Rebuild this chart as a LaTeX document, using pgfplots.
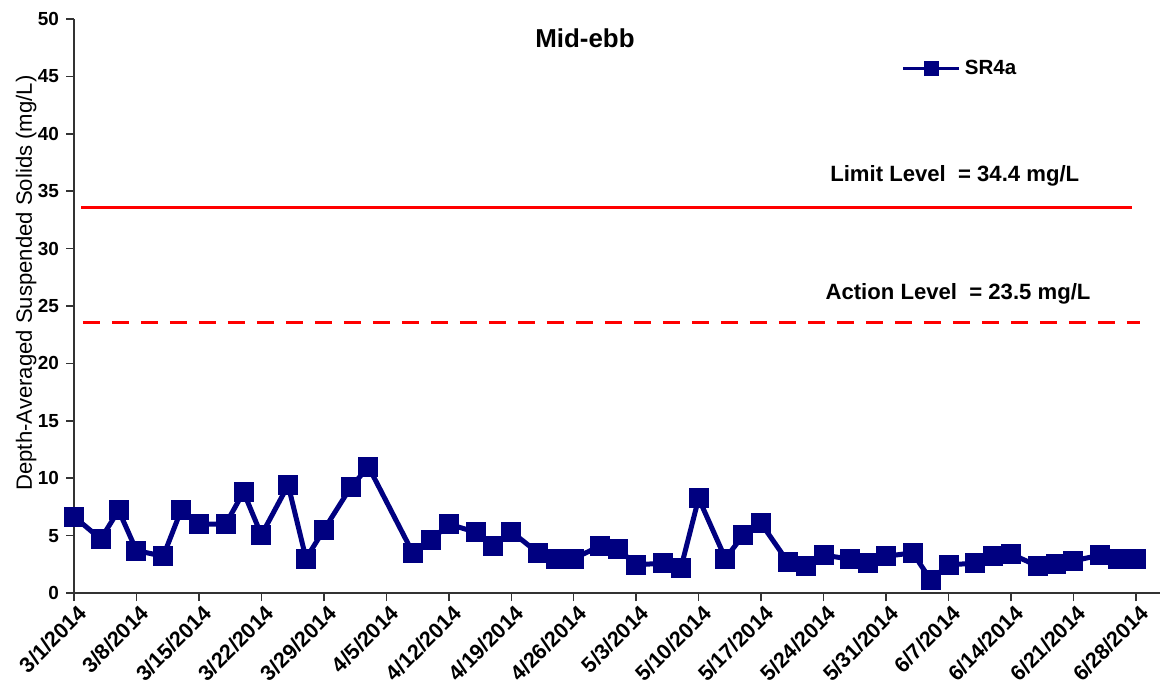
\documentclass[border=0pt]{standalone}
\usepackage{pgfplots}
\pgfplotsset{compat=1.18}
\usepackage{fontspec}
\setmainfont{Liberation Sans}
\definecolor{navy}{RGB}{0,0,128}

\pgfplotstableread{
day  tss
0    6.65
3    4.7
5    7.2
7    3.7
10   3.2
12   7.2
14   6.0
17   6.0
19   8.8
21   5.05
24   9.4
26   3.0
28   5.5
31   9.2
33   11.0
38   3.45
40   4.6
42   6.0
45   5.3
47   4.1
49   5.35
52   3.5
54   3.0
56   3.0
59   4.1
61   3.8
63   2.45
66   2.6
68   2.15
70   8.25
73   3.0
75   5.05
77   6.07
80   2.7
82   2.35
84   3.3
87   2.95
89   2.65
91   3.2
94   3.5
96   1.13
98   2.45
101  2.6
103  3.2
105  3.4
108  2.35
110  2.5
112  2.8
115  3.3
117  2.95
119  2.95
}\sranda

\begin{document}
\begin{tikzpicture}
\begin{axis}[
    scale only axis,
    width=543bp, height=287bp,
    xmin=0, xmax=121.7,
    ymin=0, ymax=50,
    axis lines=left,
    axis line style={black!80, line width=0.75bp, -},
    every tick/.style={black!80, line width=0.75bp},
    tick align=outside,
    xtick={0,7,...,119},
    xticklabels={3/1/2014,3/8/2014,3/15/2014,3/22/2014,3/29/2014,4/5/2014,4/12/2014,4/19/2014,4/26/2014,5/3/2014,5/10/2014,5/17/2014,5/24/2014,5/31/2014,6/7/2014,6/14/2014,6/21/2014,6/28/2014},
    ytick={0,5,...,50},
    x tick label style={rotate=45, anchor=east, xshift=3.5bp, yshift=-6bp, font=\fontsize{10.8}{12}\selectfont\bfseries},
    y tick label style={font=\fontsize{9.5}{11}\selectfont\bfseries},
    /pgf/number format/assume math mode=true,
    major tick length=4bp,
    ylabel={Depth-Averaged Suspended Solids (mg/L)},
    ylabel style={at={(axis description cs:-0.044,0.540)}, anchor=center, rotate=0, font=\fontsize{11.1}{13}\selectfont},
    title={Mid-ebb},
    title style={at={(rel axis cs:0.4705,0.946)}, anchor=center, font=\fontsize{13}{15}\selectfont\bfseries},
    legend style={at={(rel axis cs:0.762,0.913)}, anchor=west, draw=none, fill=none, font=\fontsize{10.3}{12}\selectfont\bfseries, inner sep=0pt},
    legend image code/.code={
        \draw[navy, line width=1.5bp] (0bp,0bp) -- (28bp,0bp);
        \fill[navy] (11.5bp,-2.5bp) rectangle (16.5bp,2.5bp);
    },
    clip=false,
]
\addplot[navy, line width=2.5bp, mark=square*, mark size=3.75bp, mark options={solid, fill=navy}] table[x=day, y=tss] {\sranda};
\addlegendentry{SR4a}
\addplot[red, line width=1.5bp, forget plot] coordinates {(0.8,33.6) (118.6,33.6)};
\addplot[red, line width=1.5bp, dash pattern=on 8.5bp off 6bp, forget plot] coordinates {(1,23.55) (119.5,23.55)};
\node[font=\fontsize{11.1}{13}\selectfont\bfseries] at (rel axis cs:0.811,0.7265) {Limit Level\ \ = 34.4 mg/L};
\node[font=\fontsize{11.1}{13}\selectfont\bfseries] at (rel axis cs:0.814,0.521) {Action Level\ \ = 23.5 mg/L};
\end{axis}
\pgfresetboundingbox
\path[use as bounding box] (-37bp,-49bp) rectangle (543.5bp,296.5bp);
\end{tikzpicture}
\end{document}
